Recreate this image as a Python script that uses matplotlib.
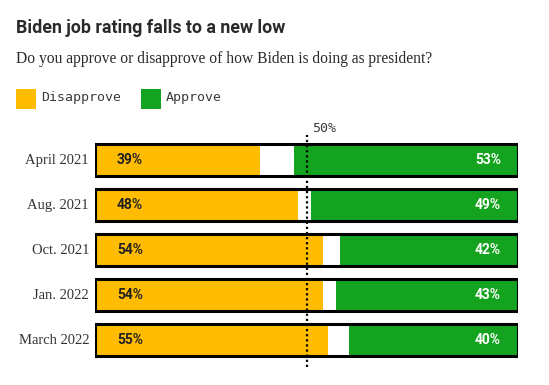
import matplotlib
matplotlib.use("Agg")
import matplotlib.pyplot as plt
from matplotlib.patches import Rectangle

categories = ["April 2021", "Aug. 2021", "Oct. 2021", "Jan. 2022", "March 2022"]
disapprove = [39, 48, 54, 54, 55]
approve = [53, 49, 42, 43, 40]

YELLOW = "#FFBC00"
GREEN = "#14A31E"

fig = plt.figure(figsize=(5.49, 3.85), dpi=100)
W, H = 549, 385

def fx(px):
    return px / W

def fy(py):
    return 1 - py / H

fig.text(fx(16), fy(26), "Biden job rating falls to a new low", fontsize=12.8,
         fontweight="bold", family="Roboto", color="#2a2a2a", va="center_baseline", ha="left")
fig.text(fx(16), fy(57), "Do you approve or disapprove of how Biden is doing as president?",
         fontsize=11.2, family="Liberation Serif", color="#2a2a2a", va="center_baseline", ha="left")

# legend
fig.patches.append(Rectangle((fx(16), fy(108.5)), fx(20), 19.5 / H, transform=fig.transFigure,
                             facecolor=YELLOW, edgecolor="none"))
fig.text(fx(41), fy(98), "Disapprove", fontsize=9.5, family="DejaVu Sans Mono",
         color="#3a3a3a", va="center", ha="left")
fig.patches.append(Rectangle((fx(141), fy(108.5)), fx(20), 19.5 / H, transform=fig.transFigure,
                             facecolor=GREEN, edgecolor="none"))
fig.text(fx(166), fy(98), "Approve", fontsize=9.5, family="DejaVu Sans Mono",
         color="#3a3a3a", va="center", ha="left")

ax = fig.add_axes([fx(95), fy(367), fx(518 - 95), (367 - 135) / H])
ax.set_xlim(0, 100)
ax.set_ylim(4.6, -0.556)
ax.axis("off")

y = list(range(len(categories)))
h = 0.69
ax.barh(y, [100] * len(y), left=0, height=h, color="white", edgecolor="none", zorder=1)
ax.barh(y, disapprove, left=0, height=h, color=YELLOW, edgecolor="none", zorder=2)
ax.barh(y, approve, left=[100 - a for a in approve], height=h, color=GREEN,
        edgecolor="none", zorder=2)
ax.barh(y, [100] * len(y), left=0, height=h, fill=False, edgecolor="black",
        linewidth=2.2, zorder=4)

ax.axvline(50, color="black", linestyle=(0, (1, 1.3)), linewidth=1.6, zorder=5,
           ymin=0, ymax=1)
ax.text(51.4, -0.556, "50%", fontsize=9.5, family="DejaVu Sans Mono", color="#3a3a3a",
        va="bottom", ha="left", clip_on=False)

for i, (d, a) in enumerate(zip(disapprove, approve)):
    ax.text(5.2, i, f"{d}%", fontsize=10, fontweight="bold", family="Roboto",
            color="#222222", va="center", ha="left", zorder=6)
    ax.text(96, i, f"{a}%", fontsize=10, fontweight="bold", family="Roboto",
            color="white", va="center", ha="right", zorder=6)
    ax.text(-1.4, i, categories[i], fontsize=10.5, family="Liberation Serif",
            color="#333333", va="center", ha="right", clip_on=False)

fig.savefig("out.png", dpi=100)
